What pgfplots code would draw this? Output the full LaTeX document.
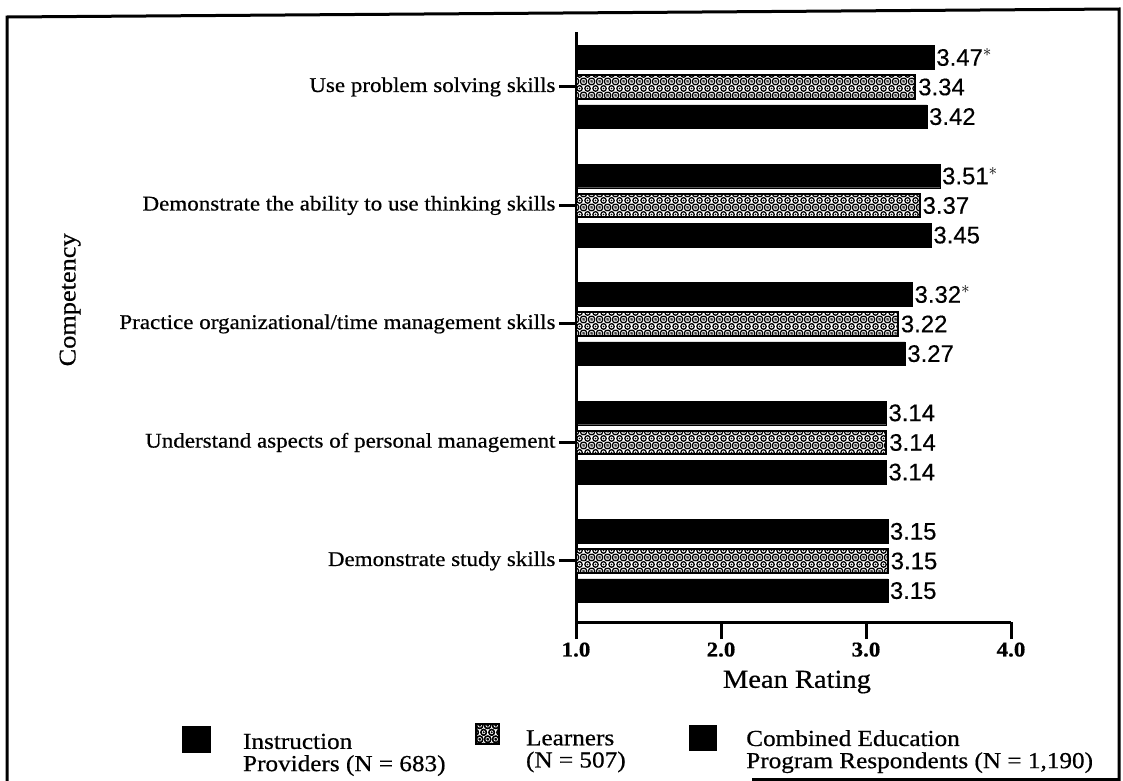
\documentclass[border=0pt]{standalone}
\usepackage{pgfplots}
\pgfplotsset{compat=1.18}
\usetikzlibrary{patterns.meta}
\usepackage{fontspec}
\setmainfont{Liberation Serif}[FakeStretch=1.1, FakeBold=0.6]
\newfontfamily\numfont{Liberation Sans}[FakeBold=0.4]

% rings with a dot in the middle, staggered rows
\tikzdeclarepattern{
  name=ringdots,
  type=uncolored,
  bottom left={(0bp,0bp)},
  top right={(8bp,14bp)},
  tile size={(8bp,14bp)},
  code={
    \draw[line width=1.4bp] (0bp,0bp) circle[radius=3bp];
    \draw[line width=1.4bp] (8bp,0bp) circle[radius=3bp];
    \draw[line width=1.4bp] (0bp,14bp) circle[radius=3bp];
    \draw[line width=1.4bp] (8bp,14bp) circle[radius=3bp];
    \draw[line width=1.4bp] (4bp,7bp) circle[radius=3bp];
    \fill (0bp,0bp) circle[radius=1bp];
    \fill (8bp,0bp) circle[radius=1bp];
    \fill (0bp,14bp) circle[radius=1bp];
    \fill (8bp,14bp) circle[radius=1bp];
    \fill (4bp,7bp) circle[radius=1bp];
  }
}

% widen a legend image cell without drawing anything
\newcommand\legendgap[1]{%
  \pgfpathmoveto{\pgfqpoint{0bp}{0bp}}%
  \pgfpathlineto{\pgfqpoint{#1}{0bp}}%
  \pgfusepath{discard}}

\begin{document}
\begin{tikzpicture}
\useasboundingbox (0bp,0bp) rectangle (1123bp,-781bp);
% page frame
\draw[line width=3bp] (7bp,-781bp) -- (7bp,-17bp) -- (1119bp,-9bp) -- (1119bp,-781bp);
\draw[line width=3bp] (752bp,-779.5bp) -- (1119bp,-779.5bp);
\begin{axis}[
  at={(576bp,-622bp)}, anchor=south west,
  scale only axis, width=435bp, height=590bp,
  xmin=1, xmax=4, ymin=-0.515, ymax=4.464,
  axis x line*=bottom, axis y line*=left,
  axis line style={line width=3bp, -},
  xtick={1,2,3,4}, xticklabels={1.0,2.0,3.0,4.0},
  ytick={0,1,2,3,4},
  yticklabels={Demonstrate study skills,
               Understand aspects of personal management,
               Practice organizational/time management skills,
               Demonstrate the ability to use thinking skills,
               Use problem solving skills},
  tick align=outside,
  major tick length=17bp,
  tick style={line width=3bp, black},
  xticklabel style={font=\fontsize{21}{22}\selectfont\bfseries},
  yticklabel style={font=\fontsize{21}{22}\selectfont},
  xlabel={Mean Rating},
  xlabel style={font=\fontsize{26}{28}\selectfont, at={(axis description cs:0.508,-0.1017)}, anchor=center},
  ylabel={Competency},
  ylabel style={font=\fontsize{24}{26}\selectfont, at={(axis description cs:-1.163,0.546)}, anchor=center},
  xbar, bar width=0.2,
  nodes near coords, point meta=explicit symbolic,
  every node near coord/.append style={font=\numfont\fontsize{24}{25}\selectfont, black, anchor=west, inner sep=2bp},
  legend columns=3,
  legend cell align=left,
  legend style={at={(axis description cs:-0.906,-0.208)}, anchor=west,
    draw=none, fill=none, inner sep=0pt, outer sep=0pt,
    nodes={inner sep=0pt, outer sep=0pt},
    column sep=0pt,
    font=\fontsize{23}{21}\selectfont},
]
% Instruction Providers (N = 683)
\addplot[fill=black, draw=black, bar shift=0.25,
  legend image code/.code={
    \fill[black] (0bp,-4bp) rectangle (28bp,22bp);
    \legendgap{61bp}}]
  coordinates {(3.15,0) [3.15] (3.14,1) [3.14] (3.32,2) [3.32$^*$]
               (3.51,3) [3.51$^*$] (3.47,4) [3.47$^*$]};
\addlegendentry{\makebox[232bp][l]{\begin{tabular}{@{}l@{}}Instruction\\Providers (N = 683)\end{tabular}}}
% Learners (N = 507)
\addplot[fill=white, draw=black, line width=2bp, postaction={pattern=ringdots}, bar shift=0,
  legend image code/.code={
    \filldraw[fill=white, draw=black, line width=2bp, postaction={pattern=ringdots}] (0bp,5bp) rectangle (23bp,25bp);
    \legendgap{50bp}}]
  coordinates {(3.15,0) [3.15] (3.14,1) [3.14] (3.22,2) [3.22]
               (3.37,3) [3.37] (3.34,4) [3.34]};
\addlegendentry{\makebox[163bp][l]{\raisebox{7bp}{\begin{tabular}{@{}l@{}}Learners\\(N = 507)\end{tabular}}}}
% Combined Education Program Respondents (N = 1,190)
\addplot[fill=black, draw=black, bar shift=-0.25,
  legend image code/.code={
    \fill[black] (0bp,-2bp) rectangle (27bp,23bp);
    \legendgap{57bp}}]
  coordinates {(3.15,0) [3.15] (3.14,1) [3.14] (3.27,2) [3.27]
               (3.45,3) [3.45] (3.42,4) [3.42]};
\addlegendentry{\raisebox{7bp}{\begin{tabular}{@{}l@{}}Combined Education\\Program Respondents (N = 1,190)\end{tabular}}}
\end{axis}
\end{tikzpicture}
\end{document}
